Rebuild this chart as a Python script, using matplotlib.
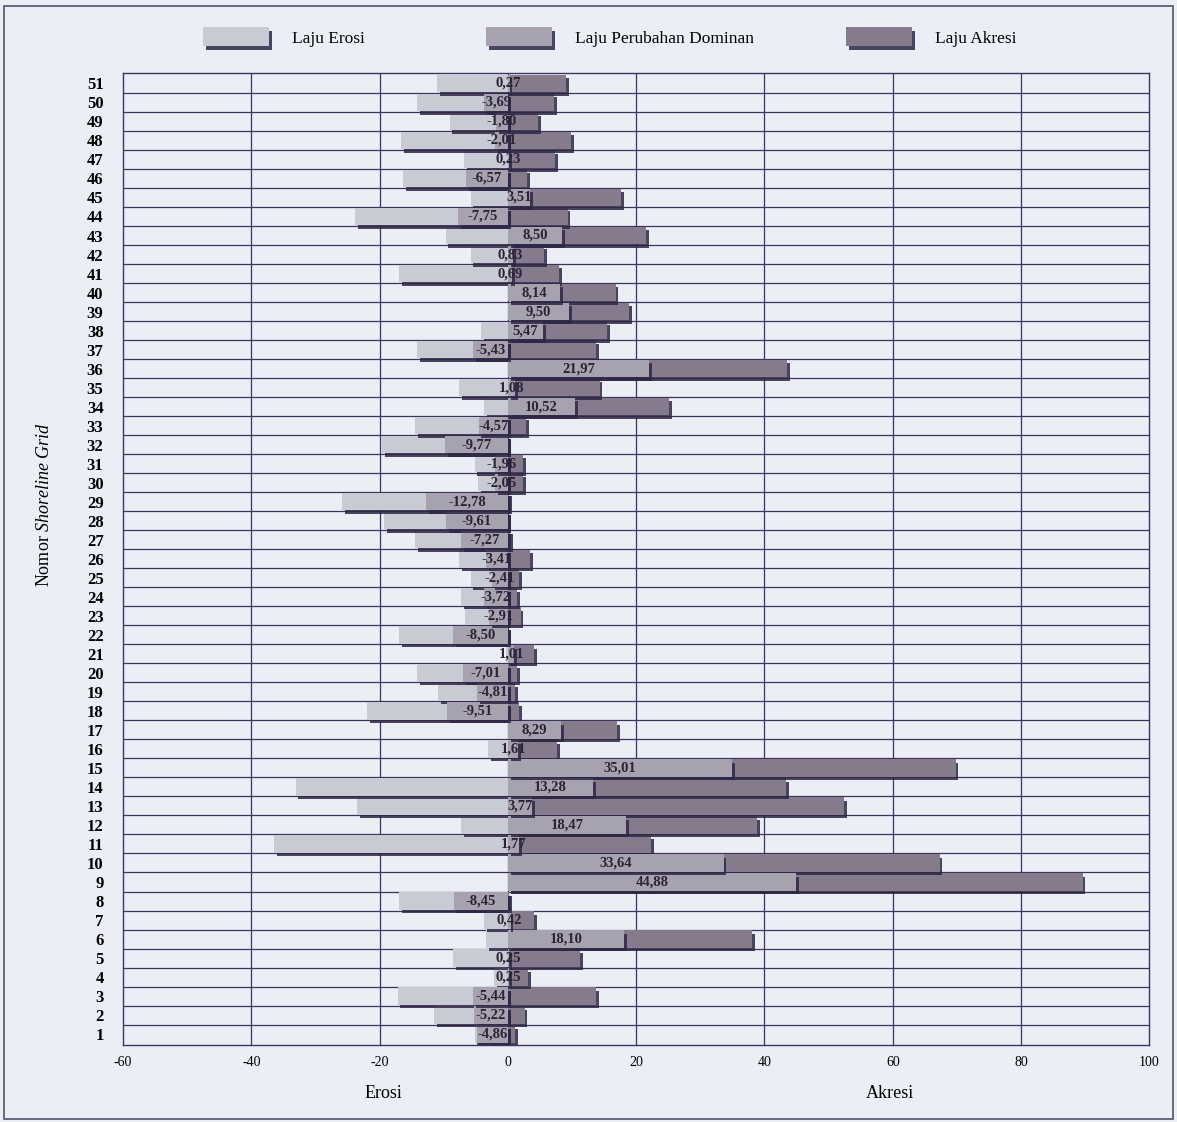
import matplotlib
matplotlib.use("Agg")
import matplotlib.pyplot as plt
import matplotlib.patheffects as pe
from matplotlib.patches import Rectangle
import numpy as np

# nomor grid 1..51
grid = list(range(1, 52))

# laju erosi (nilai negatif)
erosi = [-5.2, -11.5, -17.2, -2.2, -8.5, -3.4, -3.7, -17.0, 0.0, 0.0,
         -36.4, -7.3, -23.5, -33.1, 0.0, -3.1, 0.0, -22.0, -10.9, -14.2,
         -0.3, -17.0, -6.7, -7.3, -5.8, -7.6, -14.5, -19.3, -25.9, -4.6,
         -5.2, -19.6, -14.5, -3.7, -7.6, 0.0, -14.2, -4.2, 0.0, 0.0,
         -17.0, -5.8, -9.7, -23.8, -5.8, -16.3, -6.8, -16.6, -9.1, -14.2,
         -11.0]

# laju akresi
akresi = [1.1, 2.6, 13.7, 3.2, 11.3, 38.1, 4.1, 0.2, 89.6, 67.3,
          22.3, 38.8, 52.4, 43.4, 69.8, 7.7, 17.0, 1.7, 1.1, 1.4,
          4.1, 0.0, 2.0, 1.4, 1.7, 3.5, 0.3, 0.0, 0.2, 2.4,
          2.4, 0.0, 2.9, 25.1, 14.3, 43.5, 13.7, 15.5, 18.9, 16.8,
          8.0, 5.6, 21.5, 9.3, 17.6, 3.0, 7.4, 9.9, 4.7, 7.2,
          9.1]

# laju perubahan dominan (label)
dominan = [-4.86, -5.22, -5.44, 0.25, 0.25, 18.10, 0.42, -8.45, 44.88, 33.64,
           1.77, 18.47, 3.77, 13.28, 35.01, 1.61, 8.29, -9.51, -4.81, -7.01,
           1.01, -8.50, -2.91, -3.72, -2.41, -3.41, -7.27, -9.61, -12.78, -2.05,
           -1.96, -9.77, -4.57, 10.52, 1.08, 21.97, -5.43, 5.47, 9.50, 8.14,
           0.69, 0.83, 8.50, -7.75, 3.51, -6.57, 0.23, -2.01, -1.80, -3.69,
           0.27]

c_erosi = "#c9cbd4"
c_dominan = "#a7a2b0"
c_akresi = "#867b8d"
c_line = "#3b3460"
bg = "#eceef5"

plt.rcParams['font.family'] = ['Liberation Serif', 'DejaVu Serif']
plt.rcParams['axes.unicode_minus'] = False
plt.rcParams['mathtext.fontset'] = 'custom'
plt.rcParams['mathtext.rm'] = 'Liberation Serif'
plt.rcParams['mathtext.it'] = 'Liberation Serif:italic'

fig = plt.figure(figsize=(11.77, 11.22), dpi=100, facecolor=bg)
ax = fig.add_axes([0.1045, 0.069, 0.872, 0.866])
ax.set_facecolor(bg)

shadow = [pe.withSimplePatchShadow(offset=(2, -2.5), shadow_rgbFace="#2e2745", alpha=0.85)]
h = 0.92

b1 = ax.barh(grid, akresi, height=h, color=c_akresi, zorder=2, label="Laju Akresi")
b2 = ax.barh(grid, erosi, height=h, color=c_erosi, zorder=2, label="Laju Erosi")
b3 = ax.barh(grid, dominan, height=h, color=c_dominan, zorder=3,
             label="Laju Perubahan Dominan")
for bars in (b1, b2, b3):
    for p in bars:
        p.set_path_effects(shadow)

for g, v in zip(grid, dominan):
    ax.text(v / 2, g, f"{v:.2f}".replace(".", ","), ha="center", va="center",
            fontsize=10.5, fontweight="bold", color="#2a2235", zorder=5)

# garis grid
for xv in range(-40, 100, 20):
    ax.axvline(xv, color=c_line, lw=0.9, zorder=1)
for yv in np.arange(1.5, 51.5, 1):
    ax.axhline(yv, color=c_line, lw=0.9, zorder=1)

ax.set_xlim(-60, 100)
ax.set_ylim(0.45, 51.55)
ax.set_xticks(range(-60, 101, 20))
ax.set_yticks(grid)
ax.set_yticklabels([str(g) for g in grid], fontsize=12, fontweight="bold")
ax.tick_params(axis="x", labelsize=10, length=0, pad=8)
ax.tick_params(axis="y", length=0, pad=14)
for s in ax.spines.values():
    s.set_color(c_line)
    s.set_linewidth(1.0)

fig.text(383 / 1177, 1 - 1093 / 1122, "Erosi", ha="center", va="center", fontsize=13)
fig.text(890 / 1177, 1 - 1093 / 1122, "Akresi", ha="center", va="center", fontsize=13)
fig.text(45 / 1177, 1 - 505 / 1122, r"Nomor $\it{Shoreline\ Grid}$", rotation=90,
         ha="center", va="center", fontsize=13)

# legenda di atas, tiap entri diletakkan sendiri
for hd, x0 in zip([b2, b3, b1], [203, 486, 846]):
    fig.legend([hd], [hd.get_label()], loc="center left",
               bbox_to_anchor=(x0 / 1177, 1 - 37 / 1122), frameon=False,
               handlelength=3.8, handleheight=1.3, handletextpad=1.3, fontsize=12.5,
               borderpad=0, borderaxespad=0)

fig.patches.append(Rectangle((0.003, 0.003), 0.994, 0.992, transform=fig.transFigure,
                             fill=False, edgecolor="#55506a", lw=1.2))

fig.savefig("out.png", dpi=100, facecolor=bg)
